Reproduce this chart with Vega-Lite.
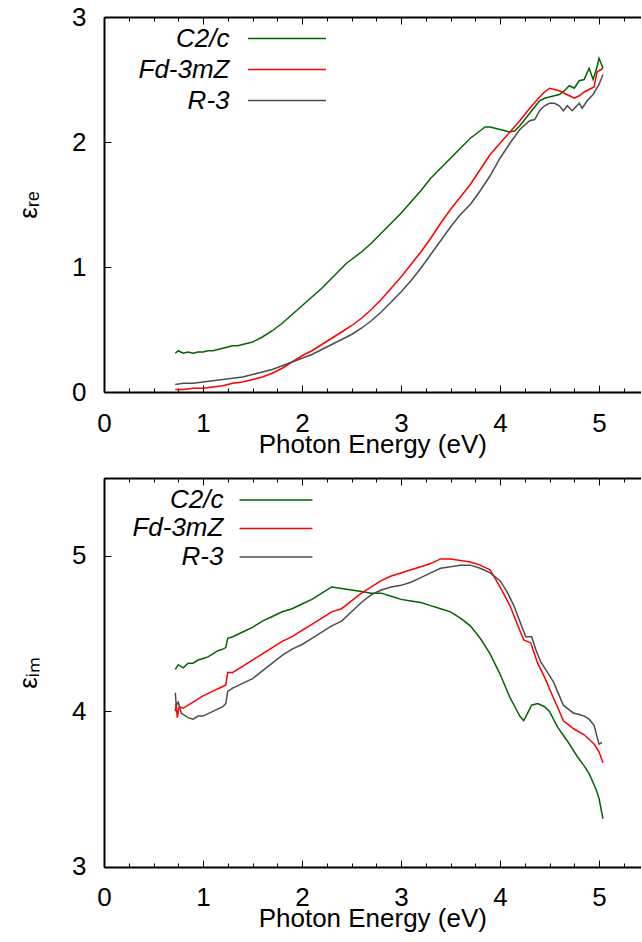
{
  "$schema": "https://vega.github.io/schema/vega-lite/v6.json",
  "background": "white",
  "padding": {"left": 15, "top": 4, "right": 0, "bottom": 0},
  "spacing": 20,
  "config": {
    "view": {"stroke": null},
    "font": "Liberation Sans",
    "axis": {"domainColor": "black", "domainWidth": 2, "tickColor": "black", "tickWidth": 1, "labelColor": "black", "labelFontSize": 26, "labelFont": "Liberation Sans", "titleFont": "Liberation Sans", "titleFontSize": 26, "titleFontWeight": "normal", "titleColor": "black", "grid": false}
  },
  "resolve": {"scale": {"color": "independent"}, "legend": {"color": "independent"}},
  "datasets": {
    "re": [
      {"s":"C2/c","E":0.72,"v":0.31},{"s":"C2/c","E":0.75,"v":0.33},{"s":"C2/c","E":0.8,"v":0.31},{"s":"C2/c","E":0.85,"v":0.32},{"s":"C2/c","E":0.9,"v":0.31},{"s":"C2/c","E":0.95,"v":0.32},{"s":"C2/c","E":1.0,"v":0.32},{"s":"C2/c","E":1.05,"v":0.33},{"s":"C2/c","E":1.1,"v":0.33},{"s":"C2/c","E":1.15,"v":0.34},{"s":"C2/c","E":1.2,"v":0.35},{"s":"C2/c","E":1.25,"v":0.36},{"s":"C2/c","E":1.3,"v":0.37},{"s":"C2/c","E":1.35,"v":0.37},{"s":"C2/c","E":1.4,"v":0.38},{"s":"C2/c","E":1.5,"v":0.40},{"s":"C2/c","E":1.6,"v":0.44},{"s":"C2/c","E":1.7,"v":0.49},{"s":"C2/c","E":1.8,"v":0.55},{"s":"C2/c","E":1.9,"v":0.62},{"s":"C2/c","E":2.0,"v":0.69},{"s":"C2/c","E":2.1,"v":0.76},{"s":"C2/c","E":2.2,"v":0.83},{"s":"C2/c","E":2.3,"v":0.91},{"s":"C2/c","E":2.4,"v":0.99},{"s":"C2/c","E":2.45,"v":1.03},{"s":"C2/c","E":2.5,"v":1.06},{"s":"C2/c","E":2.6,"v":1.12},{"s":"C2/c","E":2.7,"v":1.19},{"s":"C2/c","E":2.8,"v":1.27},{"s":"C2/c","E":2.9,"v":1.35},{"s":"C2/c","E":3.0,"v":1.43},{"s":"C2/c","E":3.1,"v":1.52},{"s":"C2/c","E":3.2,"v":1.61},{"s":"C2/c","E":3.3,"v":1.71},{"s":"C2/c","E":3.4,"v":1.79},{"s":"C2/c","E":3.5,"v":1.87},{"s":"C2/c","E":3.6,"v":1.95},{"s":"C2/c","E":3.7,"v":2.03},{"s":"C2/c","E":3.8,"v":2.09},{"s":"C2/c","E":3.85,"v":2.12},{"s":"C2/c","E":3.9,"v":2.12},{"s":"C2/c","E":3.95,"v":2.11},{"s":"C2/c","E":4.0,"v":2.10},{"s":"C2/c","E":4.05,"v":2.09},{"s":"C2/c","E":4.1,"v":2.08},{"s":"C2/c","E":4.15,"v":2.09},{"s":"C2/c","E":4.2,"v":2.13},{"s":"C2/c","E":4.25,"v":2.18},{"s":"C2/c","E":4.3,"v":2.23},{"s":"C2/c","E":4.35,"v":2.28},{"s":"C2/c","E":4.4,"v":2.33},{"s":"C2/c","E":4.45,"v":2.35},{"s":"C2/c","E":4.5,"v":2.36},{"s":"C2/c","E":4.55,"v":2.37},{"s":"C2/c","E":4.6,"v":2.38},{"s":"C2/c","E":4.65,"v":2.41},{"s":"C2/c","E":4.7,"v":2.45},{"s":"C2/c","E":4.75,"v":2.43},{"s":"C2/c","E":4.8,"v":2.49},{"s":"C2/c","E":4.85,"v":2.50},{"s":"C2/c","E":4.9,"v":2.59},{"s":"C2/c","E":4.94,"v":2.50},{"s":"C2/c","E":4.98,"v":2.60},{"s":"C2/c","E":5.0,"v":2.67},{"s":"C2/c","E":5.04,"v":2.59},
      {"s":"Fd-3mZ","E":0.72,"v":0.02},{"s":"Fd-3mZ","E":0.8,"v":0.02},{"s":"Fd-3mZ","E":0.9,"v":0.03},{"s":"Fd-3mZ","E":1.0,"v":0.03},{"s":"Fd-3mZ","E":1.1,"v":0.04},{"s":"Fd-3mZ","E":1.2,"v":0.05},{"s":"Fd-3mZ","E":1.3,"v":0.07},{"s":"Fd-3mZ","E":1.4,"v":0.08},{"s":"Fd-3mZ","E":1.5,"v":0.10},{"s":"Fd-3mZ","E":1.6,"v":0.12},{"s":"Fd-3mZ","E":1.7,"v":0.15},{"s":"Fd-3mZ","E":1.8,"v":0.19},{"s":"Fd-3mZ","E":1.9,"v":0.24},{"s":"Fd-3mZ","E":2.0,"v":0.29},{"s":"Fd-3mZ","E":2.1,"v":0.33},{"s":"Fd-3mZ","E":2.2,"v":0.38},{"s":"Fd-3mZ","E":2.3,"v":0.43},{"s":"Fd-3mZ","E":2.4,"v":0.48},{"s":"Fd-3mZ","E":2.5,"v":0.53},{"s":"Fd-3mZ","E":2.6,"v":0.59},{"s":"Fd-3mZ","E":2.7,"v":0.66},{"s":"Fd-3mZ","E":2.8,"v":0.74},{"s":"Fd-3mZ","E":2.9,"v":0.83},{"s":"Fd-3mZ","E":3.0,"v":0.92},{"s":"Fd-3mZ","E":3.1,"v":1.02},{"s":"Fd-3mZ","E":3.2,"v":1.12},{"s":"Fd-3mZ","E":3.3,"v":1.23},{"s":"Fd-3mZ","E":3.4,"v":1.35},{"s":"Fd-3mZ","E":3.5,"v":1.46},{"s":"Fd-3mZ","E":3.6,"v":1.56},{"s":"Fd-3mZ","E":3.7,"v":1.66},{"s":"Fd-3mZ","E":3.8,"v":1.78},{"s":"Fd-3mZ","E":3.9,"v":1.90},{"s":"Fd-3mZ","E":4.0,"v":1.99},{"s":"Fd-3mZ","E":4.1,"v":2.08},{"s":"Fd-3mZ","E":4.2,"v":2.17},{"s":"Fd-3mZ","E":4.3,"v":2.27},{"s":"Fd-3mZ","E":4.4,"v":2.36},{"s":"Fd-3mZ","E":4.45,"v":2.40},{"s":"Fd-3mZ","E":4.5,"v":2.43},{"s":"Fd-3mZ","E":4.55,"v":2.42},{"s":"Fd-3mZ","E":4.6,"v":2.41},{"s":"Fd-3mZ","E":4.65,"v":2.39},{"s":"Fd-3mZ","E":4.7,"v":2.37},{"s":"Fd-3mZ","E":4.75,"v":2.35},{"s":"Fd-3mZ","E":4.8,"v":2.37},{"s":"Fd-3mZ","E":4.85,"v":2.40},{"s":"Fd-3mZ","E":4.9,"v":2.42},{"s":"Fd-3mZ","E":4.95,"v":2.44},{"s":"Fd-3mZ","E":4.98,"v":2.56},{"s":"Fd-3mZ","E":5.04,"v":2.59},
      {"s":"R-3","E":0.72,"v":0.06},{"s":"R-3","E":0.8,"v":0.07},{"s":"R-3","E":0.9,"v":0.07},{"s":"R-3","E":1.0,"v":0.08},{"s":"R-3","E":1.1,"v":0.09},{"s":"R-3","E":1.2,"v":0.10},{"s":"R-3","E":1.3,"v":0.11},{"s":"R-3","E":1.4,"v":0.12},{"s":"R-3","E":1.5,"v":0.14},{"s":"R-3","E":1.6,"v":0.16},{"s":"R-3","E":1.7,"v":0.18},{"s":"R-3","E":1.8,"v":0.21},{"s":"R-3","E":1.9,"v":0.24},{"s":"R-3","E":2.0,"v":0.27},{"s":"R-3","E":2.1,"v":0.30},{"s":"R-3","E":2.2,"v":0.34},{"s":"R-3","E":2.3,"v":0.38},{"s":"R-3","E":2.4,"v":0.42},{"s":"R-3","E":2.5,"v":0.46},{"s":"R-3","E":2.6,"v":0.51},{"s":"R-3","E":2.7,"v":0.57},{"s":"R-3","E":2.8,"v":0.64},{"s":"R-3","E":2.9,"v":0.72},{"s":"R-3","E":3.0,"v":0.80},{"s":"R-3","E":3.1,"v":0.89},{"s":"R-3","E":3.2,"v":0.99},{"s":"R-3","E":3.3,"v":1.10},{"s":"R-3","E":3.4,"v":1.21},{"s":"R-3","E":3.5,"v":1.32},{"s":"R-3","E":3.6,"v":1.42},{"s":"R-3","E":3.7,"v":1.50},{"s":"R-3","E":3.8,"v":1.61},{"s":"R-3","E":3.9,"v":1.73},{"s":"R-3","E":4.0,"v":1.87},{"s":"R-3","E":4.1,"v":1.99},{"s":"R-3","E":4.2,"v":2.10},{"s":"R-3","E":4.3,"v":2.17},{"s":"R-3","E":4.35,"v":2.18},{"s":"R-3","E":4.4,"v":2.25},{"s":"R-3","E":4.45,"v":2.29},{"s":"R-3","E":4.5,"v":2.31},{"s":"R-3","E":4.55,"v":2.31},{"s":"R-3","E":4.6,"v":2.29},{"s":"R-3","E":4.64,"v":2.25},{"s":"R-3","E":4.68,"v":2.29},{"s":"R-3","E":4.73,"v":2.25},{"s":"R-3","E":4.8,"v":2.31},{"s":"R-3","E":4.83,"v":2.27},{"s":"R-3","E":4.88,"v":2.33},{"s":"R-3","E":4.94,"v":2.38},{"s":"R-3","E":5.0,"v":2.46},{"s":"R-3","E":5.04,"v":2.54}
    ],
    "im": [
      {"s":"C2/c","E":0.72,"v":4.27},{"s":"C2/c","E":0.75,"v":4.30},{"s":"C2/c","E":0.8,"v":4.28},{"s":"C2/c","E":0.85,"v":4.31},{"s":"C2/c","E":0.9,"v":4.31},{"s":"C2/c","E":0.95,"v":4.33},{"s":"C2/c","E":1.0,"v":4.34},{"s":"C2/c","E":1.05,"v":4.35},{"s":"C2/c","E":1.1,"v":4.37},{"s":"C2/c","E":1.15,"v":4.39},{"s":"C2/c","E":1.2,"v":4.40},{"s":"C2/c","E":1.23,"v":4.41},{"s":"C2/c","E":1.25,"v":4.47},{"s":"C2/c","E":1.3,"v":4.48},{"s":"C2/c","E":1.4,"v":4.51},{"s":"C2/c","E":1.5,"v":4.54},{"s":"C2/c","E":1.6,"v":4.58},{"s":"C2/c","E":1.7,"v":4.61},{"s":"C2/c","E":1.8,"v":4.64},{"s":"C2/c","E":1.9,"v":4.66},{"s":"C2/c","E":2.0,"v":4.69},{"s":"C2/c","E":2.1,"v":4.72},{"s":"C2/c","E":2.2,"v":4.76},{"s":"C2/c","E":2.3,"v":4.80},{"s":"C2/c","E":2.4,"v":4.79},{"s":"C2/c","E":2.5,"v":4.78},{"s":"C2/c","E":2.6,"v":4.77},{"s":"C2/c","E":2.7,"v":4.76},{"s":"C2/c","E":2.8,"v":4.76},{"s":"C2/c","E":2.9,"v":4.74},{"s":"C2/c","E":3.0,"v":4.72},{"s":"C2/c","E":3.1,"v":4.71},{"s":"C2/c","E":3.2,"v":4.70},{"s":"C2/c","E":3.3,"v":4.68},{"s":"C2/c","E":3.4,"v":4.66},{"s":"C2/c","E":3.5,"v":4.64},{"s":"C2/c","E":3.6,"v":4.60},{"s":"C2/c","E":3.7,"v":4.55},{"s":"C2/c","E":3.8,"v":4.47},{"s":"C2/c","E":3.9,"v":4.37},{"s":"C2/c","E":4.0,"v":4.24},{"s":"C2/c","E":4.1,"v":4.09},{"s":"C2/c","E":4.15,"v":4.03},{"s":"C2/c","E":4.2,"v":3.97},{"s":"C2/c","E":4.24,"v":3.94},{"s":"C2/c","E":4.28,"v":3.99},{"s":"C2/c","E":4.32,"v":4.04},{"s":"C2/c","E":4.38,"v":4.05},{"s":"C2/c","E":4.45,"v":4.03},{"s":"C2/c","E":4.5,"v":4.00},{"s":"C2/c","E":4.58,"v":3.90},{"s":"C2/c","E":4.68,"v":3.81},{"s":"C2/c","E":4.78,"v":3.71},{"s":"C2/c","E":4.85,"v":3.65},{"s":"C2/c","E":4.9,"v":3.60},{"s":"C2/c","E":4.97,"v":3.50},{"s":"C2/c","E":5.0,"v":3.44},{"s":"C2/c","E":5.04,"v":3.31},
      {"s":"Fd-3mZ","E":0.72,"v":4.00},{"s":"Fd-3mZ","E":0.73,"v":4.05},{"s":"Fd-3mZ","E":0.74,"v":3.96},{"s":"Fd-3mZ","E":0.76,"v":4.03},{"s":"Fd-3mZ","E":0.8,"v":4.02},{"s":"Fd-3mZ","E":0.85,"v":4.04},{"s":"Fd-3mZ","E":0.9,"v":4.06},{"s":"Fd-3mZ","E":1.0,"v":4.10},{"s":"Fd-3mZ","E":1.1,"v":4.13},{"s":"Fd-3mZ","E":1.2,"v":4.16},{"s":"Fd-3mZ","E":1.23,"v":4.17},{"s":"Fd-3mZ","E":1.25,"v":4.25},{"s":"Fd-3mZ","E":1.3,"v":4.25},{"s":"Fd-3mZ","E":1.4,"v":4.29},{"s":"Fd-3mZ","E":1.5,"v":4.33},{"s":"Fd-3mZ","E":1.6,"v":4.37},{"s":"Fd-3mZ","E":1.7,"v":4.41},{"s":"Fd-3mZ","E":1.8,"v":4.45},{"s":"Fd-3mZ","E":1.9,"v":4.48},{"s":"Fd-3mZ","E":2.0,"v":4.52},{"s":"Fd-3mZ","E":2.1,"v":4.56},{"s":"Fd-3mZ","E":2.2,"v":4.60},{"s":"Fd-3mZ","E":2.3,"v":4.64},{"s":"Fd-3mZ","E":2.4,"v":4.66},{"s":"Fd-3mZ","E":2.5,"v":4.71},{"s":"Fd-3mZ","E":2.6,"v":4.76},{"s":"Fd-3mZ","E":2.7,"v":4.80},{"s":"Fd-3mZ","E":2.8,"v":4.84},{"s":"Fd-3mZ","E":2.9,"v":4.87},{"s":"Fd-3mZ","E":3.0,"v":4.89},{"s":"Fd-3mZ","E":3.1,"v":4.91},{"s":"Fd-3mZ","E":3.2,"v":4.93},{"s":"Fd-3mZ","E":3.3,"v":4.95},{"s":"Fd-3mZ","E":3.4,"v":4.98},{"s":"Fd-3mZ","E":3.5,"v":4.98},{"s":"Fd-3mZ","E":3.6,"v":4.97},{"s":"Fd-3mZ","E":3.7,"v":4.96},{"s":"Fd-3mZ","E":3.8,"v":4.94},{"s":"Fd-3mZ","E":3.9,"v":4.91},{"s":"Fd-3mZ","E":4.0,"v":4.80},{"s":"Fd-3mZ","E":4.1,"v":4.68},{"s":"Fd-3mZ","E":4.2,"v":4.52},{"s":"Fd-3mZ","E":4.24,"v":4.46},{"s":"Fd-3mZ","E":4.31,"v":4.44},{"s":"Fd-3mZ","E":4.38,"v":4.31},{"s":"Fd-3mZ","E":4.45,"v":4.22},{"s":"Fd-3mZ","E":4.51,"v":4.13},{"s":"Fd-3mZ","E":4.58,"v":4.03},{"s":"Fd-3mZ","E":4.64,"v":3.94},{"s":"Fd-3mZ","E":4.7,"v":3.91},{"s":"Fd-3mZ","E":4.74,"v":3.89},{"s":"Fd-3mZ","E":4.85,"v":3.85},{"s":"Fd-3mZ","E":4.95,"v":3.79},{"s":"Fd-3mZ","E":5.0,"v":3.74},{"s":"Fd-3mZ","E":5.04,"v":3.67},
      {"s":"R-3","E":0.72,"v":4.12},{"s":"R-3","E":0.73,"v":4.04},{"s":"R-3","E":0.75,"v":4.06},{"s":"R-3","E":0.78,"v":3.99},{"s":"R-3","E":0.8,"v":3.98},{"s":"R-3","E":0.85,"v":3.96},{"s":"R-3","E":0.9,"v":3.95},{"s":"R-3","E":0.95,"v":3.97},{"s":"R-3","E":1.0,"v":3.97},{"s":"R-3","E":1.1,"v":4.00},{"s":"R-3","E":1.2,"v":4.03},{"s":"R-3","E":1.23,"v":4.05},{"s":"R-3","E":1.25,"v":4.13},{"s":"R-3","E":1.3,"v":4.15},{"s":"R-3","E":1.4,"v":4.18},{"s":"R-3","E":1.5,"v":4.21},{"s":"R-3","E":1.6,"v":4.26},{"s":"R-3","E":1.7,"v":4.31},{"s":"R-3","E":1.8,"v":4.36},{"s":"R-3","E":1.9,"v":4.40},{"s":"R-3","E":2.0,"v":4.43},{"s":"R-3","E":2.1,"v":4.47},{"s":"R-3","E":2.2,"v":4.51},{"s":"R-3","E":2.3,"v":4.55},{"s":"R-3","E":2.4,"v":4.58},{"s":"R-3","E":2.5,"v":4.64},{"s":"R-3","E":2.6,"v":4.70},{"s":"R-3","E":2.7,"v":4.75},{"s":"R-3","E":2.8,"v":4.78},{"s":"R-3","E":2.9,"v":4.80},{"s":"R-3","E":3.0,"v":4.81},{"s":"R-3","E":3.1,"v":4.83},{"s":"R-3","E":3.2,"v":4.86},{"s":"R-3","E":3.3,"v":4.89},{"s":"R-3","E":3.4,"v":4.92},{"s":"R-3","E":3.5,"v":4.93},{"s":"R-3","E":3.6,"v":4.94},{"s":"R-3","E":3.7,"v":4.94},{"s":"R-3","E":3.8,"v":4.92},{"s":"R-3","E":3.9,"v":4.89},{"s":"R-3","E":4.0,"v":4.84},{"s":"R-3","E":4.07,"v":4.77},{"s":"R-3","E":4.14,"v":4.68},{"s":"R-3","E":4.2,"v":4.58},{"s":"R-3","E":4.26,"v":4.48},{"s":"R-3","E":4.32,"v":4.48},{"s":"R-3","E":4.36,"v":4.40},{"s":"R-3","E":4.41,"v":4.32},{"s":"R-3","E":4.47,"v":4.26},{"s":"R-3","E":4.54,"v":4.19},{"s":"R-3","E":4.6,"v":4.10},{"s":"R-3","E":4.64,"v":4.04},{"s":"R-3","E":4.7,"v":4.01},{"s":"R-3","E":4.74,"v":3.99},{"s":"R-3","E":4.8,"v":3.98},{"s":"R-3","E":4.85,"v":3.97},{"s":"R-3","E":4.9,"v":3.95},{"s":"R-3","E":4.95,"v":3.91},{"s":"R-3","E":5.0,"v":3.79},{"s":"R-3","E":5.03,"v":3.80}
    ]
  },
  "vconcat": [
    {
      "width": 536.6, "height": 375,
      "data": {"name": "re"},
      "layer": [
        {
          "mark": {"type": "line", "strokeWidth": 1.5, "clip": true},
          "encoding": {
            "x": {"field": "E", "type": "quantitative", "scale": {"domain": [0, 5.42], "nice": false, "zero": false},
              "axis": {"orient": "bottom", "values": [0,0.25,0.5,0.75,1,1.25,1.5,1.75,2,2.25,2.5,2.75,3,3.25,3.5,3.75,4,4.25,4.5,4.75,5,5.25], "labelExpr": "datum.value % 1 === 0 ? format(datum.value, 'd') : ''", "labelOverlap": false, "labelFlush": false, "tickSize": {"condition": {"test": "datum.value % 1 === 0", "value": -7}, "value": -4}, "labelPadding": 25, "title": "Photon Energy (eV)", "titlePadding": -8}},
            "y": {"field": "v", "type": "quantitative", "scale": {"domain": [0, 3], "nice": false},
              "axis": {"values": [0, 1, 2, 3], "tickSize": -7, "labelPadding": 25, "title": "εᵣₑ", "titlePadding": 30}},
            "color": {"field": "s", "type": "nominal", "scale": {"domain": ["C2/c", "Fd-3mZ", "R-3"], "range": ["#006400", "#ff0000", "#4d4d4d"]},
              "legend": {"orient": "none", "legendX": 170, "legendY": 8.5, "title": null, "symbolType": "M-5,0H5", "symbolSize": 243, "symbolStrokeWidth": 1.5, "symbolFillColor": "transparent", "labelAlign": "right", "labelOffset": -70.5, "labelFontSize": 26, "labelFontStyle": "italic", "labelFont": "Liberation Sans", "labelColor": "black", "rowPadding": 5, "padding": 0, "labelLimit": 0}}
          }
        },
        {
          "mark": {"type": "point", "opacity": 0},
          "encoding": {
            "x": {"field": "E", "type": "quantitative",
              "axis": {"orient": "top", "values": [0,0.25,0.5,0.75,1,1.25,1.5,1.75,2,2.25,2.5,2.75,3,3.25,3.5,3.75,4,4.25,4.5,4.75,5,5.25], "labels": false, "title": null, "tickSize": {"condition": {"test": "datum.value % 1 === 0", "value": -7}, "value": -4}}}
          }
        }
      ],
      "resolve": {"axis": {"x": "independent"}}
    },
    {
      "width": 536.6, "height": 389,
      "data": {"name": "im"},
      "layer": [
        {
          "mark": {"type": "line", "strokeWidth": 1.5, "clip": true},
          "encoding": {
            "x": {"field": "E", "type": "quantitative", "scale": {"domain": [0, 5.42], "nice": false, "zero": false},
              "axis": {"orient": "bottom", "values": [0,0.25,0.5,0.75,1,1.25,1.5,1.75,2,2.25,2.5,2.75,3,3.25,3.5,3.75,4,4.25,4.5,4.75,5,5.25], "labelExpr": "datum.value % 1 === 0 ? format(datum.value, 'd') : ''", "labelOverlap": false, "labelFlush": false, "tickSize": {"condition": {"test": "datum.value % 1 === 0", "value": -7}, "value": -4}, "labelPadding": 25, "title": "Photon Energy (eV)", "titlePadding": -8}},
            "y": {"field": "v", "type": "quantitative", "scale": {"domain": [3, 5.5], "nice": false, "zero": false},
              "axis": {"values": [3, 4, 5], "tickSize": -7, "labelPadding": 25, "title": "εᵢₘ", "titlePadding": 30}},
            "color": {"field": "s", "type": "nominal", "scale": {"domain": ["C2/c", "Fd-3mZ", "R-3"], "range": ["#006400", "#ff0000", "#4d4d4d"]},
              "legend": {"orient": "none", "legendX": 159, "legendY": 9, "title": null, "symbolType": "M-5,0H5", "symbolSize": 213, "symbolStrokeWidth": 1.5, "symbolFillColor": "transparent", "labelAlign": "right", "labelOffset": -65.6, "labelFontSize": 26, "labelFontStyle": "italic", "labelFont": "Liberation Sans", "labelColor": "black", "rowPadding": 2.5, "padding": 0, "labelLimit": 0}}
          }
        },
        {
          "mark": {"type": "point", "opacity": 0},
          "encoding": {
            "x": {"field": "E", "type": "quantitative",
              "axis": {"orient": "top", "values": [0,0.25,0.5,0.75,1,1.25,1.5,1.75,2,2.25,2.5,2.75,3,3.25,3.5,3.75,4,4.25,4.5,4.75,5,5.25], "labels": false, "title": null, "tickSize": {"condition": {"test": "datum.value % 1 === 0", "value": -7}, "value": -4}}}
          }
        }
      ],
      "resolve": {"axis": {"x": "independent"}}
    }
  ]
}
